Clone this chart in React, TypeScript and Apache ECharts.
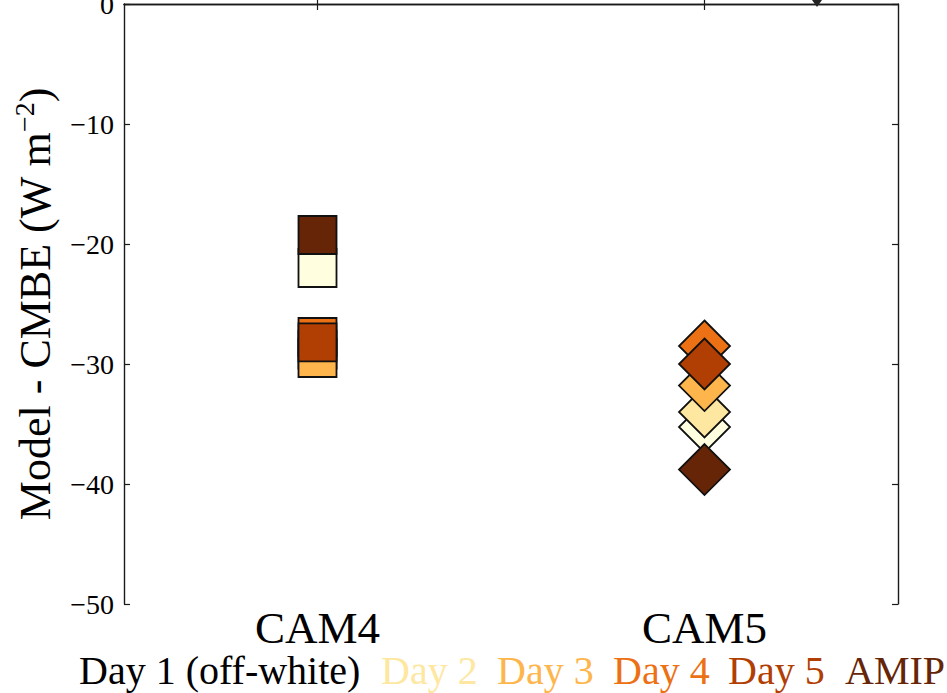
import React, { useEffect, useRef } from "react";
import * as echarts from "echarts";

// Models on the category axis
const categories = ["CAM4", "CAM5"];

// Forecast days and the AMIP run, in drawing order
const runNames = ["Day 1", "Day 2", "Day 3", "Day 4", "Day 5", "AMIP"];

// Model - CMBE bias (W m^-2) for each run
const cam4Bias = [-22.0, -28.8, -29.5, -27.75, -28.2, -19.25];
const cam5Bias = [-35.25, -34.0, -31.8, -28.5, -30.0, -38.8];

// Marker fills (YlOrBr-like ramp)
const runColors = ["#ffffe0", "#fee7a0", "#fdb54c", "#ec7014", "#b13e03", "#662506"];

// Bottom key
const keyLabels = ["Day 1 (off-white)", "Day 2", "Day 3", "Day 4", "Day 5", "AMIP"];
const keyColors = ["#000000", "#fee7a0", "#fdb54c", "#ec7014", "#b13e03", "#662506"];
const keyX = [79, 381, 497, 613, 728, 845];

// Value axis range
const yMin = -50;
const yMax = 0;
const yStep = 10;

const FONT = "'Liberation Serif', 'DejaVu Serif', serif";
const AXIS_COLOR = "#1a1a1a";

const fmtTick = (v: number) => (v < 0 ? "\u2212" + Math.abs(v) : String(v));

export default function App() {
  const ref = useRef<HTMLDivElement>(null);

  useEffect(() => {
    if (!ref.current) return;
    const chart = echarts.init(ref.current, null, { renderer: "svg" });

    const series = runNames.map((name, i) => ({
      name,
      type: "scatter",
      xAxisIndex: 0,
      yAxisIndex: 0,
      data: [
        { value: [categories[0], cam4Bias[i]], symbol: "rect", symbolSize: 38 },
        { value: [categories[1], cam5Bias[i]], symbol: "diamond", symbolSize: 51 },
      ],
      itemStyle: {
        color: runColors[i],
        borderColor: "#111111",
        borderWidth: 1.8,
        opacity: 1,
      },
      emphasis: { disabled: true },
      z: 3,
    }));

    const axisLine = { show: true, lineStyle: { color: AXIS_COLOR, width: 1.4 } };
    const tickIn = { show: true, inside: true, length: 6, lineStyle: { color: AXIS_COLOR, width: 1.2 } };

    chart.setOption({
      animation: false,
      backgroundColor: "#ffffff",
      grid: {
        left: 124,
        top: 4,
        right: 49,
        bottom: 89,
        containLabel: false,
        outerBoundsMode: "none",
      },
      xAxis: [
        {
          type: "category",
          data: categories,
          position: "bottom",
          boundaryGap: true,
          axisLine,
          axisTick: { ...tickIn, alignWithLabel: true },
          axisLabel: {
            color: "#000",
            fontFamily: FONT,
            fontSize: 45,
            lineHeight: 36,
            margin: 6,
          },
          splitLine: { show: false },
        },
        {
          type: "category",
          data: categories,
          position: "top",
          boundaryGap: true,
          axisLine,
          axisTick: { ...tickIn, alignWithLabel: true },
          axisLabel: { show: false },
          splitLine: { show: false },
        },
      ],
      yAxis: [
        {
          type: "value",
          min: yMin,
          max: yMax,
          interval: yStep,
          position: "left",
          axisLine,
          axisTick: tickIn,
          axisLabel: {
            color: "#000",
            fontFamily: FONT,
            fontSize: 28,
            margin: 10,
            formatter: fmtTick,
          },
          splitLine: { show: false },
          name: "{a|Model - CMBE (W m}{s|\u22122}{a|)}",
          nameLocation: "middle",
          nameRotate: 90,
          nameGap: 64,
          nameTextStyle: {
            color: "#000",
            fontFamily: FONT,
            rich: {
              a: { fontFamily: FONT, fontSize: 44, color: "#000", lineHeight: 50 },
              s: { fontFamily: FONT, fontSize: 28, color: "#000", lineHeight: 22, verticalAlign: "top" },
            },
          },
        },
        {
          type: "value",
          min: yMin,
          max: yMax,
          interval: yStep,
          position: "right",
          axisLine,
          axisTick: tickIn,
          axisLabel: { show: false },
          splitLine: { show: false },
        },
      ],
      graphic: [
        // small marker cut by the top frame
        {
          type: "polygon",
          shape: { points: [[812, 0], [822, 0], [817, 7]] },
          style: { fill: "#222222" },
          z: 10,
        },
        ...keyLabels.map((label, i) => ({
          type: "text",
          left: keyX[i],
          top: 650,
          style: {
            text: label,
            fill: keyColors[i],
            font: `40px ${FONT}`,
          },
          z: 10,
        })),
      ],
      series,
    });

    return () => chart.dispose();
  }, []);

  return (
    <div
      ref={ref}
      style={{ position: "fixed", left: 0, top: 0, width: 947, height: 693, background: "#fff" }}
    />
  );
}
